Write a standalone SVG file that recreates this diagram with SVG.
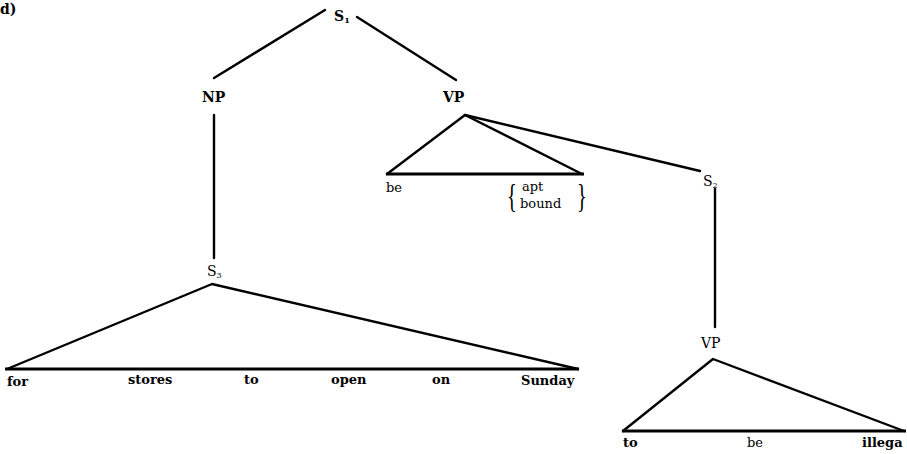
<svg xmlns="http://www.w3.org/2000/svg" width="907" height="454" viewBox="0 0 907 454">
<style>
.e{stroke:#000;stroke-width:2.4;fill:none;stroke-linecap:round;stroke-linejoin:round}
.b{stroke:#000;stroke-width:3;fill:none}
text{font-family:"DejaVu Serif","Liberation Serif",serif;fill:#000}
.lb{font-size:14px;font-weight:bold}
.ln{font-size:14px}
.w{font-size:13px;font-weight:bold}
.n{font-size:13px}
.sub{font-size:8px}
.br{font-size:34px;font-family:"Liberation Serif",serif}
</style>
<rect width="907" height="454" fill="#fff"/>
<text x="0" y="14" class="lb">d)</text>
<g id="edges">
<line class="e" x1="325" y1="10" x2="214" y2="78"/>
<line class="e" x1="357" y1="17" x2="456" y2="80"/>
<line class="e" x1="214" y1="115" x2="214" y2="258"/>
<polyline class="e" points="387,174 465,115 582,174"/>
<line class="b" x1="386" y1="174" x2="584" y2="174"/>
<line class="e" x1="465" y1="115" x2="700" y2="171"/>
<line class="e" x1="715" y1="189" x2="715" y2="327"/>
<polyline class="e" points="7,369 212,284 578,369"/>
<line class="b" x1="5" y1="369" x2="579" y2="369"/>
<polyline class="e" points="623,431 713,359 904,431"/>
<line class="b" x1="622" y1="431" x2="906" y2="431"/>
</g>
<g id="S1"><text x="334" y="21" class="lb">S<tspan class="sub" dy="2">1</tspan></text></g>
<g id="NP"><text x="202" y="102" class="lb">NP</text></g>
<g id="VP"><text x="443" y="102" class="lb">VP</text></g>
<g id="S3"><text x="207" y="276" class="ln">S<tspan class="sub" dy="2">3</tspan></text></g>
<g id="S2"><text x="703" y="186" class="ln">S<tspan class="sub" dy="2">2</tspan></text></g>
<g id="VP2"><text x="701" y="348" class="ln">VP</text></g>
<g id="VPtri-words">
<text x="386" y="192" class="n">be</text>
<text class="br" transform="translate(507,207) scale(0.6,1)">{</text>
<text x="522" y="191" class="n">apt</text>
<text x="520" y="208" class="n">bound</text>
<text class="br" transform="translate(577,207) scale(0.6,1)">}</text>
</g>
<g id="S3-words">
<text x="7" y="386" class="w">for</text>
<text x="128" y="384" class="w">stores</text>
<text x="244" y="384" class="w">to</text>
<text x="331" y="384" class="w">open</text>
<text x="432" y="384" class="w">on</text>
<text x="521" y="385" class="w">Sunday</text>
</g>
<g id="VP2-words">
<text x="623" y="447" class="w">to</text>
<text x="747" y="447" class="n">be</text>
<text x="862" y="447" class="w">illega</text>
</g>
</svg>
